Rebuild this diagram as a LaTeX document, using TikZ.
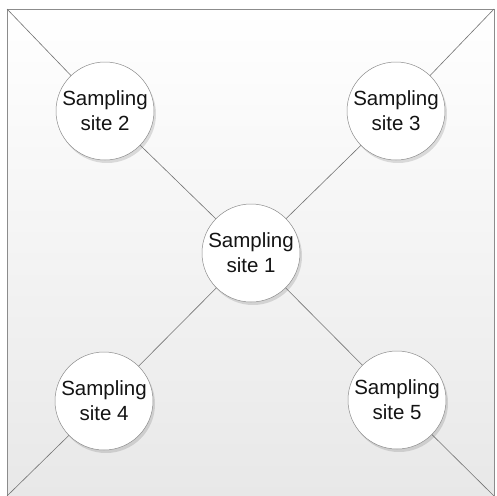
\documentclass[tikz,border=0pt]{standalone}
\usepackage{fontspec}
\setmainfont{Liberation Sans}
\usetikzlibrary{shadows}
\begin{document}
\begin{tikzpicture}[x=1pt,y=-1pt,
  site/.style={circle, draw=black!45, line width=0.5pt, fill=white, minimum size=98pt, inner sep=0pt,
    align=center, font=\fontsize{20.5}{25}\selectfont, text=black!92,
    drop shadow={shadow xshift=2pt, shadow yshift=-3pt, opacity=0.12, fill=black}},
  link/.style={draw=black!55, line width=0.6pt}]
\useasboundingbox (0,0) rectangle (496,496);
\shade[top color=white, middle color=white, bottom color=black!9] (7,9) rectangle (494,496);
\draw[draw=black!45, line width=0.6pt] (7,9) rectangle (494,496);
\coordinate (tl) at (7,9);
\coordinate (tr) at (494,9);
\coordinate (bl) at (7,496);
\coordinate (br) at (494,496);
\node[site] (s1) at (251,253) {Sampling\\site 1};
\node[site] (s2) at (105,111) {Sampling\\site 2};
\node[site] (s3) at (396,111) {Sampling\\site 3};
\node[site] (s4) at (104,401) {Sampling\\site 4};
\node[site] (s5) at (397,400) {Sampling\\site 5};
\draw[link] (tl) -- (s2);
\draw[link] (s2) -- (s1);
\draw[link] (tr) -- (s3);
\draw[link] (s3) -- (s1);
\draw[link] (bl) -- (s4);
\draw[link] (s4) -- (s1);
\draw[link] (br) -- (s5);
\draw[link] (s5) -- (s1);
\end{tikzpicture}
\end{document}
